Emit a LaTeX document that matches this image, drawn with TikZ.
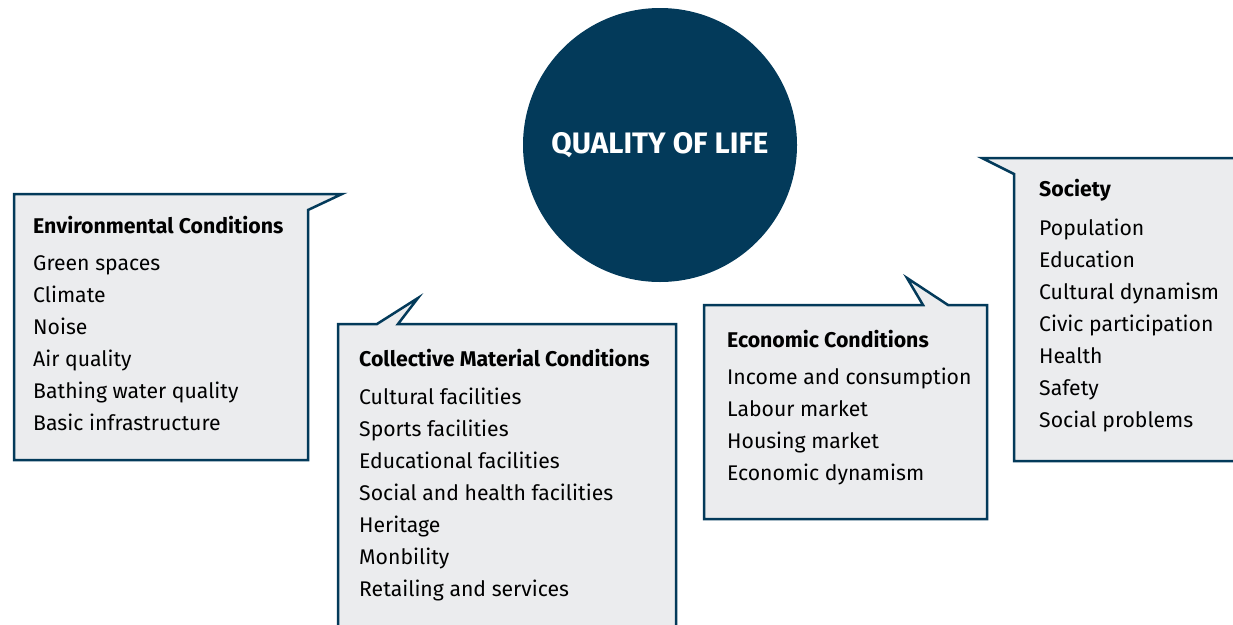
\documentclass[tikz,border=0pt]{standalone}
\usepackage{fontspec}
\setmainfont{Fira Sans}
\definecolor{navy}{HTML}{033A5A}
\definecolor{boxgrey}{HTML}{EBECEE}
\tikzset{
  bubble/.style={draw=navy,fill=boxgrey,line width=2.5pt,line join=miter},
  heading/.style={anchor=base west,inner sep=0pt,font=\fontsize{21.3}{21}\selectfont\bfseries},
  entry/.style={anchor=base west,inner sep=0pt,font=\fontsize{21.2}{21}\selectfont},
}

\begin{document}
\begin{tikzpicture}[x=1pt,y=-1pt]
    \useasboundingbox (0,0) rectangle (1233,624);
    \node[shape=circle,fill=navy,minimum size=274pt,text=white,
          font=\fontsize{29.6}{30}\selectfont\bfseries] (qol) at (660,145) {QUALITY OF LIFE};

    \draw[bubble] (14,194) -- (342,194) -- (308,210) -- (308,460) -- (14,460) -- cycle;
    \draw[bubble] (338,324) -- (377,324) -- (418,298) -- (398,324) -- (676,324)
                  -- (676,640) -- (338,640) -- cycle;
    \draw[bubble] (704,305) -- (923,305) -- (907,278) -- (948,305) -- (987,305)
                  -- (987,519) -- (704,519) -- cycle;
    \draw[bubble] (982,158) -- (1250,158) -- (1250,461) -- (1014,461) -- (1014,174) -- cycle;

    \node[heading] (envhead) at (33,233) {Environmental Conditions};
    \foreach \txt [count=\i] in {Green spaces,Climate,Noise,Air quality,
        Bathing water quality,Basic infrastructure}
        \node[entry] (env\i) at (33,{238+32*\i}) {\txt};

    \node[heading] (colhead) at (359,366) {Collective Material Conditions};
    \foreach \txt [count=\i] in {Cultural facilities,Sports facilities,
        Educational facilities,Social and health facilities,Heritage,
        Monbility,Retailing and services}
        \node[entry] (col\i) at (359,{372+32*\i}) {\txt};

    \node[heading] (ecohead) at (727,347) {Economic Conditions};
    \foreach \txt [count=\i] in {Income and consumption,Labour market,
        Housing market,Economic dynamism}
        \node[entry] (eco\i) at (727,{352+32*\i}) {\txt};

    \node[heading] (sochead) at (1039,196) {Society};
    \foreach \txt [count=\i] in {Population,Education,Cultural dynamism,
        Civic participation,Health,Safety,Social problems}
        \node[entry] (soc\i) at (1039,{203+32*\i}) {\txt};
\end{tikzpicture}
\end{document}
